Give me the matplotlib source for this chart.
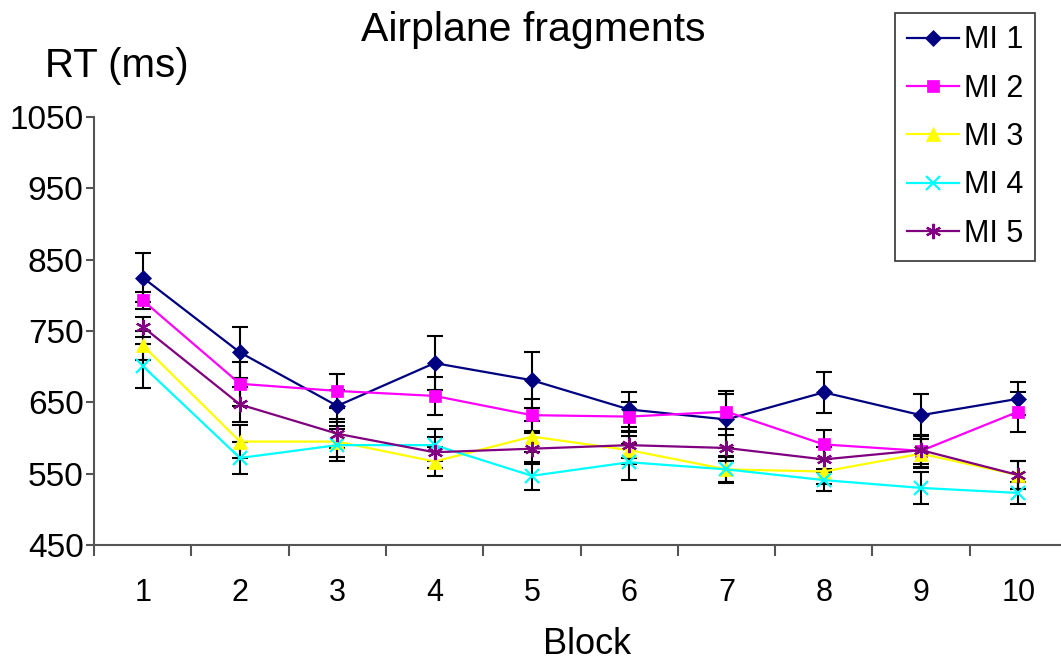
import numpy as np
import matplotlib.pyplot as plt

plt.rcParams['font.family'] = ['Liberation Sans', 'DejaVu Sans']

# data
blocks = [1, 2, 3, 4, 5, 6, 7, 8, 9, 10]
names = ['MI 1', 'MI 2', 'MI 3', 'MI 4', 'MI 5']
mi1 = [825, 720, 645, 705, 681, 640, 626, 664, 632, 655]
mi2 = [793, 676, 666, 659, 632, 630, 637, 591, 582, 637]
mi3 = [730, 595, 595, 567, 602, 583, 556, 553, 578, 548]
mi4 = [701, 572, 590, 590, 547, 566, 556, 541, 530, 523]
mi5 = [756, 647, 606, 580, 585, 590, 586, 570, 583, 548]
err1 = [35, 36, 22, 38, 39, 25, 40, 29, 29, 23]
err2 = [12, 31, 24, 27, 22, 20, 25, 20, 22, 28]
err3 = [20, 23, 22, 20, 22, 20, 18, 18, 20, 20]
err4 = [31, 22, 22, 22, 20, 25, 19, 15, 23, 16]
err5 = [14, 25, 20, 22, 22, 18, 18, 18, 20, 20]

series = [mi1, mi2, mi3, mi4, mi5]
errs = [err1, err2, err3, err4, err5]
colors = ['#000080', '#FF00FF', '#FFFF00', '#00FFFF', '#800080']
markers = ['D', 's', '^', 'x', (6, 2, 0)]
msizes = [8, 9, 10, 10, 11]

fig = plt.figure(figsize=(10.61, 6.64), dpi=100)
ax = fig.add_axes([94/1061, 119/664, 973/1061, 428/664])

x = np.array(blocks)
for y, e, c, m, ms, n in zip(series, errs, colors, markers, msizes, names):
    ax.errorbar(x, y, yerr=e, fmt='none', ecolor='black', elinewidth=1.5,
                capsize=5.5, capthick=1.5, zorder=3)
    ax.plot(x, y, color=c, lw=1.6, marker=m, markersize=ms,
            markeredgewidth=1.6 if m in ('x', (6, 2, 0)) else 0.5,
            markeredgecolor=c, markerfacecolor=c, label=n, zorder=4)

ax.set_xlim(0.5, 10.5)
ax.set_ylim(450, 1050)
ax.set_yticks(np.arange(450, 1051, 100))
ax.set_xticks(x)
ax.set_xticks(np.arange(0.5, 10.6, 1), minor=True)
ax.tick_params(axis='x', which='major', length=0, pad=24, labelsize=22)
ax.tick_params(axis='x', which='minor', length=8, width=1.5, color='#555555', direction='out')
ax.tick_params(axis='y', length=6, width=1.5, color='#555555', pad=1.5, labelsize=24)
for s in ['top', 'right']:
    ax.spines[s].set_visible(False)
for s in ['left', 'bottom']:
    ax.spines[s].set_color('#555555')
    ax.spines[s].set_linewidth(1.5)

fig.text(533/1061, 1 - 30/664, 'Airplane fragments', ha='center', va='center', fontsize=29.5)
fig.text(45/1061, 1 - 66/664, 'RT (ms)', ha='left', va='center', fontsize=29)
fig.text(587/1061, 1 - 645/664, 'Block', ha='center', va='center', fontsize=26)

leg = ax.legend(loc='upper left', bbox_to_anchor=(895/1061, 1 - 13/664),
                bbox_transform=fig.transFigure, fontsize=22, frameon=True,
                fancybox=False, handlelength=1.7, handletextpad=0.15,
                labelspacing=0.6, borderpad=0.4, borderaxespad=0)
leg.get_frame().set_edgecolor('black')
leg.get_frame().set_linewidth(1.2)

fig.savefig('out.png', dpi=100)
